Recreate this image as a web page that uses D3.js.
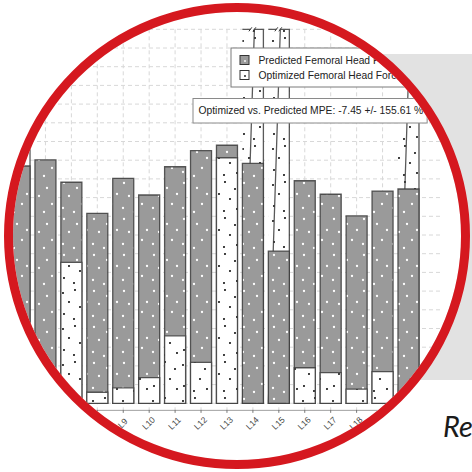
<!DOCTYPE html>
<html>
<head>
<meta charset="utf-8">
<script src="https://cdn.jsdelivr.net/npm/d3@7"></script>
<style>
  html, body { margin: 0; padding: 0; background: #fff; }
  svg { display: block; }
</style>
</head>
<body>
<svg id="chart" width="472" height="472"></svg>
<script>
// Femoral head force per level (N)
const levels = ["L5", "L6", "L7", "L8", "L9", "L10", "L11", "L12", "L13", "L14", "L15", "L16", "L17", "L18", "L19", "L20"];
const predictedForce = [1269, 1302, 1182, 1016, 1203, 1114, 1265, 1351, 1380, 1283, 814, 1190, 1118, 1002, 1135, 1146];
const optimizedForce = [1650, 110, 754, 59, 83, 137, 361, 219, 1313, 2350, 2600, 190, 164, 76, 169, 2100];
const yCap = 2000;            // bars above this are broken at the top of the panel
const gridStep = 100;
const seriesNames = ["Predicted Femoral Head Force", "Optimized Femoral Head Force"];
const mpeText = "Optimized vs. Predicted MPE: -7.45 +/- 155.61 %";
const headingText = "Re";

const W = 472, H = 472;
const cx = 237, cy = 236, rInner = 224, rRing = 228.5;

const svg = d3.select("#chart");
const defs = svg.append("defs");

// circular frame clip
defs.append("clipPath").attr("id", "frameClip")
  .append("circle").attr("cx", cx).attr("cy", cy).attr("r", rInner);

// stipple fills (irregular dot tiles)
const tileW = 30, tileH = 36;
const grayPat = defs.append("pattern").attr("id", "stippleGray")
  .attr("patternUnits", "userSpaceOnUse").attr("width", tileW).attr("height", tileH);
grayPat.append("rect").attr("width", tileW).attr("height", tileH).attr("fill", "#9a9a9a");
[[4, 3], [17, 8], [27, 14], [9, 16], [22, 24], [3, 28], [14, 32]].forEach(([px, py]) =>
  grayPat.append("circle").attr("cx", px).attr("cy", py).attr("r", 1.15).attr("fill", "#fff"));

const whitePat = defs.append("pattern").attr("id", "stippleWhite")
  .attr("patternUnits", "userSpaceOnUse").attr("width", tileW).attr("height", tileH);
whitePat.append("rect").attr("width", tileW).attr("height", tileH).attr("fill", "#fff");
[[3, 5], [15, 2], [25, 9], [9, 14], [20, 19], [4, 26], [27, 29], [14, 31]].forEach(([px, py]) =>
  whitePat.append("circle").attr("cx", px).attr("cy", py).attr("r", 1.05).attr("fill", "#111"));

// page backdrop block and heading
svg.append("rect").attr("x", 300).attr("y", 54).attr("width", 172).attr("height", 326).attr("fill", "#e2e2e2");
svg.append("text").attr("x", 443).attr("y", 437)
  .attr("font-family", "Lato, 'Open Sans', sans-serif").attr("font-style", "italic")
  .attr("font-size", 29).attr("fill", "#1b1b1b").text(headingText);

// chart inside the round frame
const g = svg.append("g").attr("clip-path", "url(#frameClip)");
g.append("circle").attr("cx", cx).attr("cy", cy).attr("r", rRing).attr("fill", "#fff");

const x = d3.scaleBand().domain(levels).range([6.55, 421.45]).paddingInner(0.19).paddingOuter(0.095);
const y = d3.scaleLinear().domain([0, yCap]).range([403.3, 29.3]);
const panelLeft = -40, panelRight = 443;
const panelTop = y(yCap), panelBottom = y(-35);
const bw = x.bandwidth();

// dashed grid
g.append("g").selectAll("line").data(d3.range(0, yCap + 1, gridStep)).join("line")
  .attr("x1", panelLeft).attr("x2", panelRight)
  .attr("y1", d => y(d)).attr("y2", d => y(d))
  .attr("stroke", "#d8d8d8").attr("stroke-width", 1).attr("stroke-dasharray", "4,3");
g.append("g").selectAll("line").data(levels).join("line")
  .attr("x1", d => x(d) + bw / 2).attr("x2", d => x(d) + bw / 2)
  .attr("y1", panelTop).attr("y2", panelBottom)
  .attr("stroke", "#d8d8d8").attr("stroke-width", 1).attr("stroke-dasharray", "4,3");

// x axis
const xAxis = g.append("g").attr("transform", `translate(0,${panelBottom})`)
  .call(d3.axisBottom(x).tickSize(3).tickFormat(""));
xAxis.select(".domain").attr("stroke", "#a0a0a0");
xAxis.selectAll(".tick line").attr("stroke", "#777");
g.append("g").selectAll("text").data(levels).join("text")
  .attr("transform", d => `translate(${x(d) + bw / 2 + 1.5},${panelBottom + 15.5}) rotate(-45)`)
  .attr("text-anchor", "middle")
  .attr("font-family", "'Liberation Sans', Arial, sans-serif").attr("font-size", 8.5)
  .attr("fill", "#444").text(d => d);

// overlaid bars: the taller one sits behind the shorter one
const barData = levels.map((lv, i) => {
  const pair = [
    { level: lv, value: predictedForce[i], fill: "url(#stippleGray)" },
    { level: lv, value: optimizedForce[i], fill: "url(#stippleWhite)" }
  ];
  return pair.sort((a, b) => b.value - a.value);
});

const barLayer = g.append("g");
barData.forEach(pair => {
  const grp = barLayer.append("g");
  pair.forEach(d => {
    const x0 = x(d.level), x1 = x0 + bw;
    const top = y(Math.min(d.value, yCap)), base = y(0);
    grp.append("rect").attr("x", x0).attr("y", top).attr("width", bw).attr("height", base - top)
      .attr("fill", d.fill);
    let outline;
    if (d.value > yCap) {
      // axis break on the top edge
      const b0 = x0 + 8, b1 = x0 + 12;
      grp.append("path").attr("d", `M${b0 - 1.5},${top + 2}L${b0 + 1.5},${top - 2}M${b1 - 1.5},${top + 2}L${b1 + 1.5},${top - 2}`)
        .attr("stroke", "#333").attr("stroke-width", 1).attr("fill", "none");
      outline = `M${x0},${top}H${b0}M${b1},${top}H${x1}V${base}H${x0}Z`;
    } else {
      outline = `M${x0},${top}H${x1}V${base}H${x0}Z`;
    }
    grp.append("path").attr("d", outline).attr("fill", "none")
      .attr("stroke", "#3c3c3c").attr("stroke-width", 1.3).attr("stroke-opacity", 0.85);
  });
});

// legend
const lg = g.append("g").attr("font-family", "'Liberation Sans', Arial, sans-serif").attr("font-size", 10.3);
lg.append("rect").attr("x", 231).attr("y", 48).attr("width", 210).attr("height", 39)
  .attr("fill", "#fff").attr("stroke", "#7a7a7a").attr("stroke-width", 1);
const swatchFill = ["#9a9a9a", "#fff"], swatchDot = ["#fff", "#111"];
seriesNames.forEach((name, i) => {
  const ry = 55.5 + i * 15;
  lg.append("rect").attr("x", 240).attr("y", ry).attr("width", 9).attr("height", 9)
    .attr("fill", swatchFill[i]).attr("stroke", "#333").attr("stroke-width", 1);
  lg.append("circle").attr("cx", 245).attr("cy", ry + 5.5).attr("r", 0.9).attr("fill", swatchDot[i]);
  lg.append("text").attr("x", 258.5).attr("y", ry + 8.5).attr("fill", "#222").text(name);
});

// mean percent error note
const note = g.append("g").attr("font-family", "'Liberation Sans', Arial, sans-serif").attr("font-size", 10.3);
const noteText = note.append("text").attr("x", 198.5).attr("y", 114).attr("fill", "#222").text(mpeText);
const nb = noteText.node().getBBox();
note.insert("rect", "text").attr("x", 193).attr("y", 98.5).attr("width", nb.x + nb.width + 4 - 193).attr("height", 24.5)
  .attr("fill", "#fff").attr("stroke", "#8a8a8a").attr("stroke-width", 1);

// red ring
svg.append("circle").attr("cx", cx).attr("cy", cy).attr("r", rRing)
  .attr("fill", "none").attr("stroke", "#d5181f").attr("stroke-width", 9);
</script>
</body>
</html>
